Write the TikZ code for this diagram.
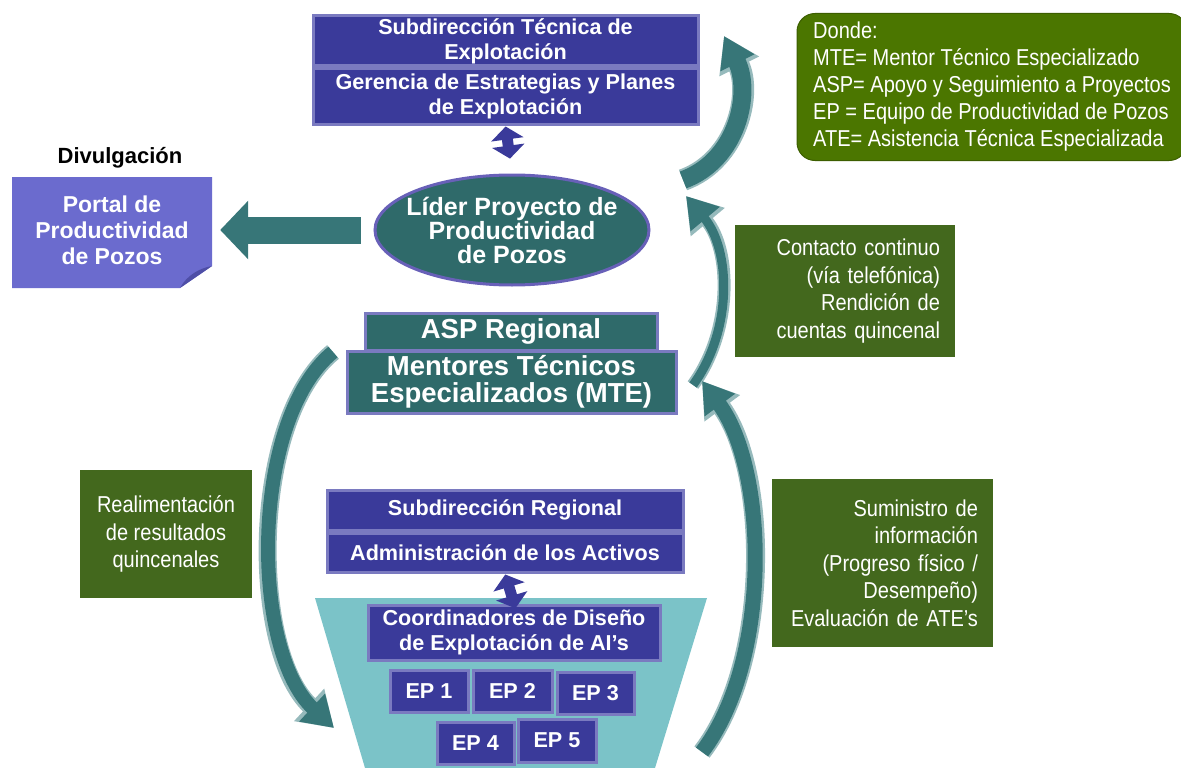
\documentclass[tikz,border=0pt]{standalone}
\usepackage{fontspec}
\setmainfont{Liberation Sans}
\newfontfamily\narrowfont[FakeStretch=0.87]{Liberation Sans}
\usetikzlibrary{arrows.meta,shapes.geometric}

\definecolor{boxblue}{RGB}{58,58,154}
\definecolor{boxrim}{RGB}{122,122,192}
\definecolor{darkteal}{RGB}{47,106,106}
\definecolor{tealrim}{RGB}{104,96,184}
\definecolor{arrteal}{RGB}{55,118,120}
\definecolor{arrrim}{RGB}{150,186,188}
\definecolor{funnelc}{RGB}{123,195,200}
\definecolor{legendc}{RGB}{75,118,0}
\definecolor{notegreen}{RGB}{67,104,29}
\definecolor{portalc}{RGB}{107,107,206}
\definecolor{portaldark}{RGB}{78,78,166}

\begin{document}
\begin{tikzpicture}[x=1pt,y=-1pt]
% Node styles ---
\tikzstyle{blu} = [rectangle, fill = boxblue, draw = boxrim, line width = 3pt, text = white, inner sep = 0pt, align = center, font = \bfseries\fontsize{21.6}{25}\selectfont] % Blue boxes
\tikzstyle{tea} = [rectangle, fill = darkteal, draw = boxrim, line width = 3pt, text = white, inner sep = 0pt, align = center, font = \bfseries\fontsize{27.5}{27.5}\selectfont] % Teal boxes
\tikzstyle{lid} = [ellipse, fill = darkteal, draw = tealrim, line width = 3pt, text = white, inner xsep = -20pt, inner ysep = -5pt, align = center, font = \bfseries\fontsize{25}{24}\selectfont] % Project leader
\tikzstyle{note} = [rectangle, fill = notegreen, text = white, inner sep = 0pt, font = \narrowfont\fontsize{23}{27.5}\selectfont] % Green notes
\tikzstyle{legend} = [rectangle, rounded corners = 18pt, fill = legendc, draw = legendc!80!black, line width = 1pt, text = white, inner sep = 0pt, align = left, font = \narrowfont\fontsize{23}{27}\selectfont] % Abbreviations
% Edge styles
\tikzstyle{dbl} = [draw = boxblue, line width = 11pt, {Triangle[length = 13pt, width = 32pt]}-{Triangle[length = 13pt, width = 32pt]}] % Two way links
\tikzstyle{bigarr} = [draw = arrteal, line width = 27pt, -{Triangle[length = 28pt, width = 57pt]}] % Publication
\tikzstyle{flow} = [draw = arrteal, line width = #1, preaction = {draw = arrrim, line width = #1 + 4pt, -{Triangle[length = 34pt, width = 42pt]}}, -{Triangle[length = 30pt, width = 36pt]}] % Curved flows
% Begin Figure ---
\useasboundingbox (0,0) rectangle (1181,768);
% Funnel
\fill [funnelc] (315,598) -- (707,598) -- (655,768) -- (365,768) -- cycle;
% Portal sheet with folded corner
\fill [portalc] (12,177) -- (212,177) -- (212,266) -- (180,288) -- (12,288) -- cycle;
\fill [portaldark] (212,266) .. controls (200,268) and (187,275) .. (180,288) -- cycle;
% Nodes
\node at (505.5,41) [blu, minimum width = 385, minimum height = 50] (subtec) {Subdirección Técnica de\\Explotación};
\node at (505.5,96.5) [blu, minimum width = 385, minimum height = 55] (gerencia) {Gerencia de Estrategias y Planes\\de Explotación};
\node at (512,230) [lid, minimum width = 274, minimum height = 110] (lider) {Líder Proyecto de\\Productividad\\de Pozos};
\node at (120,158) [font = \bfseries\fontsize{22}{24}\selectfont] (divul) {Divulgación};
\node at (112,230) [minimum width = 200, minimum height = 111, text = white, align = center, font = \bfseries\fontsize{23}{26}\selectfont] (portal) {Portal de\\Productividad\\de Pozos};
\node at (992,87) [legend, minimum width = 390, minimum height = 147] (donde) {Donde:\\MTE= Mentor Técnico Especializado\\ASP= Apoyo y Seguimiento a Proyectos\\EP = Equipo de Productividad de Pozos\\ATE= Asistencia Técnica Especializada};
\node at (511,331.5) [tea, minimum width = 292, minimum height = 37] (asp) {ASP Regional};
\node at (511.5,382) [tea, minimum width = 329, minimum height = 62] (mte) {Mentores Técnicos\\Especializados (MTE)};
\node at (845,291) [note, minimum width = 220, minimum height = 132, text width = 190, align = right] (contacto) {Contacto continuo\\(vía telefónica)\\Rendición de\\cuentas quincenal};
\node at (166,534) [note, minimum width = 172, minimum height = 128, align = center] (realim) {Realimentación\\de resultados\\quincenales};
\node at (882.5,563) [note, minimum width = 221, minimum height = 168, text width = 191, align = right] (suministro) {Suministro de\\información\\(Progreso físico /\\Desempeño)\\Evaluación de ATE’s};
\node at (505,510) [blu, minimum width = 356, minimum height = 40] (subreg) {Subdirección Regional};
\node at (505,552.5) [blu, minimum width = 356, minimum height = 39] (activos) {Administración de los Activos};
\node at (514,632.5) [blu, minimum width = 292, minimum height = 55] (coord) {Coordinadores de Diseño\\de Explotación de AI’s};
\node at (429,691) [blu, minimum width = 78, minimum height = 42] (ep1) {EP 1};
\node at (512.5,691) [blu, minimum width = 79, minimum height = 42] (ep2) {EP 2};
\node at (595.5,693) [blu, minimum width = 77, minimum height = 42] (ep3) {EP 3};
\node at (475.5,743) [blu, minimum width = 77, minimum height = 42] (ep4) {EP 4};
\node at (557,740.5) [blu, minimum width = 78, minimum height = 43] (ep5) {EP 5};
% Ends of the curved flows
\coordinate (r1a) at (683,180);
\coordinate (r1b) at (724,36);
\coordinate (r2a) at (693,385);
\coordinate (r2b) at (686,196);
\coordinate (r3a) at (702,752);
\coordinate (r3b) at (702,381);
\coordinate (l1a) at (333,352);
\coordinate (l1b) at (334,728);
% Paths
\draw [dbl, shorten < = 1pt, shorten > = 15pt] (gerencia.south) -- (lider.north);
\draw [dbl, shorten < = 1pt, shorten > = -5pt] (activos.south) -- (coord.north);
\draw [bigarr, shorten < = 13pt, shorten > = 8pt] (lider.west) -- (portal.east |- lider.west);
% curved flows
\draw [flow = 18pt] (r1a) .. controls (738,160) and (752,92) .. (r1b);
\draw [flow = 9pt] (r2a) .. controls (733,330) and (731,250) .. (r2b);
\draw [flow = 15pt] (r3a) .. controls (772,660) and (768,470) .. (r3b);
\draw [flow = 14pt] (l1a) .. controls (250,420) and (250,650) .. (l1b);
\end{tikzpicture}
\end{document}
